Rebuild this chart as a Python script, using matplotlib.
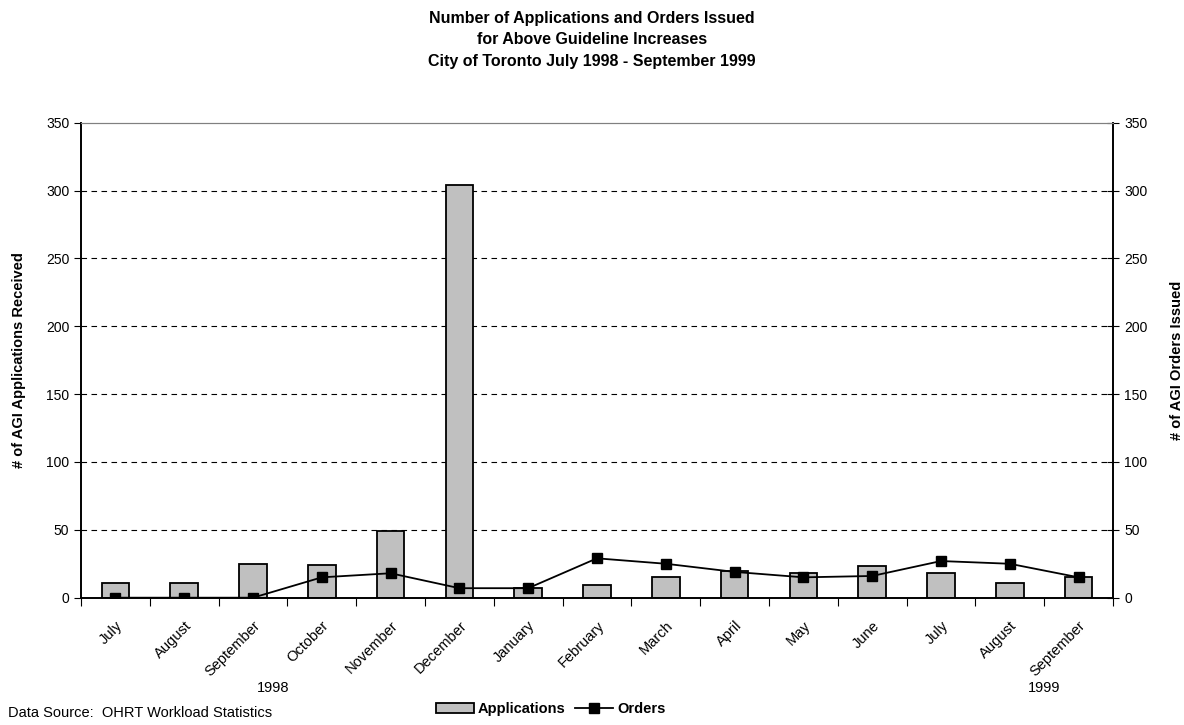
import matplotlib
matplotlib.use("Agg")
import matplotlib.pyplot as plt
import matplotlib.transforms as mtransforms
import numpy as np
from matplotlib.lines import Line2D
from matplotlib.patches import Patch

plt.rcParams.update({"font.family": ["Liberation Sans", "DejaVu Sans"], "font.size": 10})

months = ["July", "August", "September", "October", "November", "December",
          "January", "February", "March", "April", "May", "June",
          "July", "August", "September"]
applications = [11, 11, 25, 24, 49, 304, 7, 9, 15, 20, 18, 23, 18, 11, 15]
orders = [0, 0, 0, 15, 18, 7, 7, 29, 25, 19, 15, 16, 27, 25, 15]
years = ["1998", "1999"]
year_pos = [2.3, 13.5]

fig = plt.figure(figsize=(11.84, 7.25), dpi=100)
ax = fig.add_axes([0.0684, 0.1756, 0.8716, 0.6552])
x = np.arange(len(months))

ax.bar(x, applications, width=0.4, color="#c0c0c0", edgecolor="black", lw=1.3, zorder=2)
ax.set_xlim(-0.5, len(months) - 0.5)
ax.set_ylim(0, 350)
ax.set_yticks(range(0, 351, 50))
for v in range(50, 350, 50):
    ax.axhline(v, color="black", lw=0.8, ls=(0, (5, 4)), zorder=1)

ax2 = ax.twinx()
ax2.plot(x, orders, color="black", lw=1.3, marker="s", ms=7, zorder=3)
ax2.set_ylim(0, 350)
ax2.set_yticks(range(0, 351, 50))

# category ticks sit between the months, labels slanted under each bar
ax.set_xticks(np.arange(-0.5, len(months)), minor=False)
ax.set_xticklabels([])
ax.set_xticks(x, minor=True)
ax.set_xticklabels(months, minor=True, rotation=45, ha="right", va="top",
                   rotation_mode="anchor", fontsize=10.5)
shift = mtransforms.ScaledTranslation(-0.12, 0, fig.dpi_scale_trans)
for lbl in ax.get_xticklabels(minor=True):
    lbl.set_transform(lbl.get_transform() + shift)
ax.tick_params(axis="x", which="major", direction="out", length=6, color="black")
ax.tick_params(axis="x", which="minor", length=0, pad=15)
ax.tick_params(axis="y", direction="out", length=5, labelsize=10)
ax2.tick_params(axis="y", direction="inout", length=9, labelsize=10)

for sp in ["left", "right", "bottom"]:
    ax.spines[sp].set_linewidth(1.2)
    ax2.spines[sp].set_linewidth(1.2)
ax.spines["top"].set_color("#808080")
ax2.spines["top"].set_color("#808080")

for yr, p in zip(years, year_pos):
    ax.text(p, -0.19, yr, transform=ax.get_xaxis_transform(), ha="center", va="center",
            fontsize=10.5)

ax.set_ylabel("# of AGI Applications Received", fontweight="bold", fontsize=10.5, labelpad=14)
ax2.set_ylabel("# of AGI Orders Issued", fontweight="bold", fontsize=10.5, labelpad=16)

fig.suptitle("Number of Applications and Orders Issued\nfor Above Guideline Increases\n"
             "City of Toronto July 1998 - September 1999",
             x=0.5, y=0.985, fontsize=11.5, fontweight="bold", linespacing=1.55)

handles = [Patch(facecolor="#c0c0c0", edgecolor="black", lw=1.3),
           Line2D([], [], color="black", lw=1.3, marker="s", ms=7)]
fig.legend(handles, ["Applications", "Orders"], loc="center", bbox_to_anchor=(0.465, 0.022),
           ncol=2, frameon=False, prop={"weight": "bold", "size": 10.5},
           handlelength=2.6, handletextpad=0.3, columnspacing=0.6)

fig.text(0.007, 0.016, "Data Source:  OHRT Workload Statistics", fontsize=10.5,
         ha="left", va="center")

fig.savefig("out.png", dpi=100)
